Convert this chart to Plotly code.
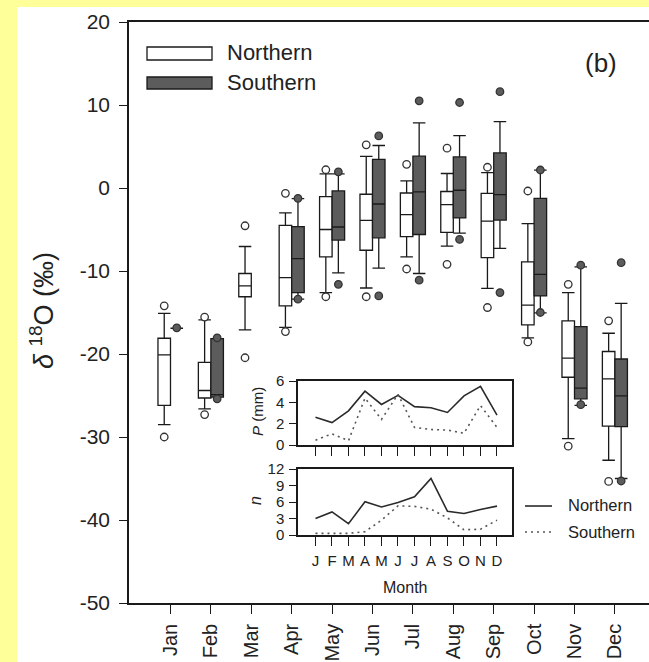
import plotly.graph_objects as go

# ---------------- data ----------------
months = ['Jan', 'Feb', 'Mar', 'Apr', 'May', 'Jun', 'Jul', 'Aug', 'Sep', 'Oct', 'Nov', 'Dec']
month_letters = ['J', 'F', 'M', 'A', 'M', 'J', 'J', 'A', 'S', 'O', 'N', 'D']

# Northern boxes (delta 18O, permil)
north_q1 = [-26.2, -25.3, -13.1, -14.2, -8.3, -7.5, -5.85, -5.35, -8.4, -16.5, -22.8, -28.7]
north_med = [-20.1, -24.4, -11.8, -10.8, -5.0, -3.9, -3.2, -2.0, -4.0, -14.1, -20.5, -23.0]
north_q3 = [-18.1, -21.0, -10.3, -4.5, -1.05, -0.75, -0.6, -0.42, -0.65, -8.9, -16.0, -19.7]
north_lo = [-28.5, -26.6, -17.1, -16.8, -12.6, -12.05, -8.3, -7.0, -12.1, -18.05, -30.2, -32.8]
north_hi = [-15.1, -15.9, -7.05, -3.0, 1.7, 3.8, 0.85, 1.75, 1.85, -4.3, -12.6, -17.5]

# Southern boxes (None = no data)
south_q1 = [-16.9, -25.2, None, -12.6, -6.27, -6.0, -5.6, -3.6, -3.86, -13.0, -25.4, -28.75]
south_med = [-16.9, -24.9, None, -8.5, -4.7, -1.93, -0.47, -0.27, -0.8, -10.4, -24.1, -25.05]
south_q3 = [-16.9, -18.15, None, -4.65, -0.35, 3.45, 3.83, 3.75, 4.23, -1.24, -16.7, -20.6]
south_lo = [-16.9, -25.2, None, -13.4, -10.22, -9.65, -10.3, -5.43, -7.27, -15.05, -26.2, -35.0]
south_hi = [-16.9, -18.15, None, -1.27, 1.7, 5.12, 7.85, 6.3, 8.0, 2.16, -9.5, -13.9]

# Outliers
north_out_month = ['Jan', 'Jan', 'Feb', 'Feb', 'Mar', 'Mar', 'Apr', 'Apr', 'May', 'May', 'Jun', 'Jun',
                   'Jul', 'Jul', 'Aug', 'Aug', 'Sep', 'Sep', 'Oct', 'Oct', 'Nov', 'Nov', 'Dec', 'Dec']
north_out_val = [-14.2, -30.0, -15.55, -27.3, -4.55, -20.45, -0.64, -17.3, 2.2, -13.1, 5.2, -13.1,
                 2.85, -9.76, 4.8, -9.2, 2.5, -14.4, -0.36, -18.55, -11.6, -31.1, -16.0, -35.35]
south_out_month = ['Jan', 'Feb', 'Feb', 'Apr', 'Apr', 'May', 'May', 'Jun', 'Jun', 'Jul', 'Jul',
                   'Aug', 'Aug', 'Sep', 'Sep', 'Oct', 'Oct', 'Nov', 'Nov', 'Dec', 'Dec']
south_out_val = [-16.85, -18.05, -25.4, -1.24, -13.4, 1.95, -11.6, 6.27, -13.0, 10.5, -11.1,
                 10.3, -6.2, 11.6, -12.6, 2.17, -15.0, -9.3, -26.1, -9.0, -35.3]

# Inset: precipitation P (mm)
p_north = [2.6, 2.1, 3.2, 5.05, 3.8, 4.65, 3.6, 3.5, 3.05, 4.6, 5.5, 2.8]
p_south = [0.45, 1.05, 0.4, 4.4, 2.4, 4.75, 1.65, 1.45, 1.4, 1.1, 3.7, 1.65]
# Inset: number of samples n
n_north = [3.0, 4.2, 2.05, 6.05, 5.1, 5.9, 6.95, 10.3, 4.3, 3.9, 4.65, 5.25]
n_south = [0.3, 0.3, 0.3, 0.6, 2.7, 5.3, 5.2, 4.7, 3.1, 0.95, 1.05, 2.7]

# ---------------- layout helpers ----------------
W, H = 649, 662
L, T, R, B = 129, 22, 0, 59
PW, PH = W - L - R, H - T - B


def px(x):
    return (x - L) / PW


def py(y):
    return (H - B - y) / PH


FONT = 'Liberation Sans, Arial, sans-serif'
TXT = '#222222'
DARK = '#5c5c5c'
LINE = '#1a1a1a'
DOT = '2px,4px'
OFF = 0.155
BW = 0.31

idx = {m: i for i, m in enumerate(months)}

fig = go.Figure()

# Northern boxes
fig.add_trace(go.Box(
    x=[i - OFF for i in range(len(months))],
    q1=north_q1, median=north_med, q3=north_q3,
    lowerfence=north_lo, upperfence=north_hi,
    width=BW, whiskerwidth=1, boxpoints=False,
    fillcolor='white', line=dict(color=LINE, width=1.3),
    name='Northern', showlegend=False, hoverinfo='skip'))

# Southern boxes
s_idx = [i for i in range(len(months)) if south_q1[i] is not None]
fig.add_trace(go.Box(
    x=[i + OFF for i in s_idx],
    q1=[south_q1[i] for i in s_idx], median=[south_med[i] for i in s_idx],
    q3=[south_q3[i] for i in s_idx],
    lowerfence=[south_lo[i] for i in s_idx], upperfence=[south_hi[i] for i in s_idx],
    width=BW, whiskerwidth=1, boxpoints=False,
    fillcolor=DARK, line=dict(color=LINE, width=1.3),
    name='Southern', showlegend=False, hoverinfo='skip'))

# Outliers
fig.add_trace(go.Scatter(
    x=[idx[m] - OFF for m in north_out_month], y=north_out_val, mode='markers',
    marker=dict(symbol='circle', size=7.5, color='white', line=dict(color='#333333', width=1.3)),
    showlegend=False, hoverinfo='skip'))
fig.add_trace(go.Scatter(
    x=[idx[m] + OFF for m in south_out_month], y=south_out_val, mode='markers',
    marker=dict(symbol='circle', size=7.5, color=DARK, line=dict(color='#333333', width=1.3)),
    showlegend=False, hoverinfo='skip'))

# Inset lines
mi = list(range(len(months)))
fig.add_trace(go.Scatter(x=mi, y=p_north, mode='lines', line=dict(color='#2a2a2a', width=1.6),
                         xaxis='x2', yaxis='y2', showlegend=False, hoverinfo='skip'))
fig.add_trace(go.Scatter(x=mi, y=p_south, mode='lines', line=dict(color='#555555', width=1.6, dash=DOT),
                         xaxis='x2', yaxis='y2', showlegend=False, hoverinfo='skip'))
fig.add_trace(go.Scatter(x=mi, y=n_north, mode='lines', line=dict(color='#2a2a2a', width=1.6),
                         xaxis='x3', yaxis='y3', showlegend=False, hoverinfo='skip'))
fig.add_trace(go.Scatter(x=mi, y=n_south, mode='lines', line=dict(color='#555555', width=1.6, dash=DOT),
                         xaxis='x3', yaxis='y3', showlegend=False, hoverinfo='skip'))

axis_common = dict(showgrid=False, zeroline=False, showline=True, linecolor=LINE, linewidth=1.5,
                   ticks='outside', tickcolor=LINE, tickwidth=1.3)

inset_x = dict(range=[-1.06, 11.91], domain=[px(298), px(512)], tickmode='array',
               tickvals=mi, ticklen=9, mirror=True, **axis_common)

fig.update_layout(
    width=W, height=H,
    margin=dict(l=L, r=R, t=T, b=B, autoexpand=False),
    paper_bgcolor='#FFFF99', plot_bgcolor='white',
    font=dict(family=FONT, color=TXT),
    showlegend=False,
    xaxis=dict(range=[-1.027, 11.844], tickmode='array', tickvals=mi, ticktext=months,
               tickangle=-90, ticklen=9, ticklabelstandoff=2, mirror=True,
               tickfont=dict(size=20, color=TXT), **axis_common),
    yaxis=dict(range=[-50, 20], tickmode='array', tickvals=[20, 10, 0, -10, -20, -30, -40, -50],
               ticktext=['20', '10', '0', '-10', '-20', '-30', '-40', '-50'],
               ticklen=8, ticklabelstandoff=5, tickfont=dict(size=21, color=TXT), **axis_common),
    xaxis2=dict(anchor='y2', showticklabels=False, **inset_x),
    yaxis2=dict(anchor='x2', domain=[py(445), py(381)], range=[0, 6], tickvals=[0, 2, 4, 6],
                ticklen=7, mirror=True, ticklabelstandoff=2, tickfont=dict(size=15, color=TXT),
                **axis_common),
    xaxis3=dict(anchor='y3', ticktext=month_letters, ticklabelstandoff=2,
                tickfont=dict(size=15, color=TXT), **inset_x),
    yaxis3=dict(anchor='x3', domain=[py(535), py(469)], range=[0, 12], tickvals=[0, 3, 6, 9, 12],
                ticklen=7, mirror=True, ticklabelstandoff=2, tickfont=dict(size=15, color=TXT),
                **axis_common),
)

shapes = [
    # white panel
    dict(type='rect', xref='paper', yref='paper', x0=px(17), x1=px(649), y0=py(662), y1=py(7),
         fillcolor='white', line=dict(width=0), layer='below'),
    # main legend swatches
    dict(type='rect', xref='paper', yref='paper', x0=px(147), x1=px(212), y0=py(60), y1=py(47),
         fillcolor='white', line=dict(color=LINE, width=1.3)),
    dict(type='rect', xref='paper', yref='paper', x0=px(147), x1=px(212), y0=py(89), y1=py(77),
         fillcolor=DARK, line=dict(color=LINE, width=1.3)),
    # inset legend lines
    dict(type='line', xref='paper', yref='paper', x0=px(525), x1=px(552), y0=py(506), y1=py(506),
         line=dict(color='#2a2a2a', width=1.6)),
    dict(type='line', xref='paper', yref='paper', x0=px(525), x1=px(552), y0=py(532), y1=py(532),
         line=dict(color='#555555', width=1.6, dash=DOT)),
]

annotations = [
    dict(text='Northern', x=px(225), y=py(53), xanchor='left', yanchor='middle',
         font=dict(size=22, color=TXT)),
    dict(text='Southern', x=px(225), y=py(83), xanchor='left', yanchor='middle',
         font=dict(size=22, color=TXT)),
    dict(text='(b)', x=px(601), y=py(63), xanchor='center', yanchor='middle',
         font=dict(size=26, color=TXT)),
    dict(text='<i>δ</i> <sup>18</sup>O (‰)', x=px(42), y=py(311), xanchor='center', yanchor='middle',
         textangle=-90, font=dict(size=27, color=TXT)),
    dict(text='<i>P</i> (mm)', x=px(257), y=py(412), xanchor='center', yanchor='middle',
         textangle=-90, font=dict(size=15, color=TXT)),
    dict(text='<i>n</i>', x=px(255), y=py(501), xanchor='center', yanchor='middle',
         textangle=-90, font=dict(size=16, color=TXT)),
    dict(text='Month', x=px(405), y=py(587), xanchor='center', yanchor='middle',
         font=dict(size=16, color=TXT)),
    dict(text='Northern', x=px(566), y=py(505), xanchor='left', yanchor='middle',
         font=dict(size=16.5, color=TXT)),
    dict(text='Southern', x=px(566), y=py(532), xanchor='left', yanchor='middle',
         font=dict(size=16.5, color=TXT)),
]
for a in annotations:
    a.update(xref='paper', yref='paper', showarrow=False)

fig.update_layout(shapes=shapes, annotations=annotations)

fig.write_html('out.html', config={'displayModeBar': False},
               post_script="document.body.style.margin='0';document.body.style.padding='0';")
